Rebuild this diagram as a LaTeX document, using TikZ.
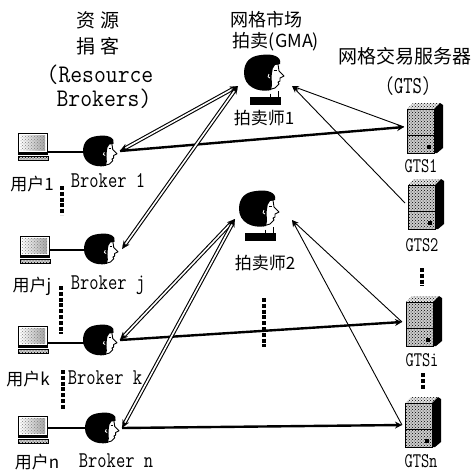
\documentclass[tikz,border=0pt]{standalone}
\usepackage{fontspec}
\newfontfamily\cjk{Noto Sans CJK SC}
\usetikzlibrary{arrows.meta,patterns,calc}
\newcommand\tallmono[2]{\scalebox{1}[#1]{\ttfamily #2}}
\tikzset{
  % profile head: black hair, white face looking right
  head/.pic={
    \draw[fill=white,line width=0.9pt,line join=round]
      (27,9) -- (34,9) -- (35,16) -- (40,21) -- (36,23) -- (36,26) -- (34,27)
      -- (35,29) -- (31,33) -- (24,35) -- (24,20) -- cycle;
    \fill (17,0) .. controls (29,-2) and (38,2) .. (36,9) -- (31,10)
      .. controls (29,12) and (28,15) .. (28,18)
      .. controls (27,22) and (28,26) .. (28,30) -- (27,35)
      .. controls (13,38) and (0,31) .. (0,18)
      .. controls (0,6) and (7,1) .. (17,0) -- cycle;
    \draw[white,line width=0.8pt] (25,19) .. controls (23,21) and (24,23) .. (26,23);
    \draw[line width=0.8pt] (30,15) -- (33,15);
  },
  auctioneer/.pic={
    \pic {head};
    \draw[line width=0.9pt] (24,35) -- (24,39) (31,33) -- (31,39);
    \fill (5,38) rectangle (34,45);
  },
  pc/.pic={
    \draw[line width=0.9pt,fill=white] (0,0) rectangle (29,19);
    \shade[left color=white,right color=gray!70] (2,2) rectangle (27,17);
    \path[pattern=crosshatch dots,pattern color=gray] (2,2) rectangle (27,17);
    \fill (0,20) rectangle (30,22);
    \draw[line width=0.6pt,fill=gray!40] (0,23) rectangle (30,27);
    \path[pattern=crosshatch dots] (0,23) rectangle (30,27);
  },
  server/.pic={
    \fill[gray!20] (0,6) -- (6,0) -- (33,0) -- (27,6) -- cycle;
    \path[pattern=crosshatch dots] (0,6) -- (6,0) -- (33,0) -- (27,6) -- cycle;
    \fill (27,6) -- (33,0) -- (36,2) -- (36,45) -- (30,50) -- (27,50) -- cycle;
    \draw[line width=0.6pt,fill=gray!40] (0,6) rectangle (27,50);
    \path[pattern=crosshatch dots] (0,6) rectangle (27,50);
    \draw[line width=0.8pt] (0,32) -- (27,32);
    \fill (20,42) rectangle (24,46);
  },
  cn/.style={font=\cjk\fontsize{17}{17}\selectfont,inner sep=0pt},
  cntitle/.style={font=\cjk\fontsize{19}{19}\selectfont,inner sep=0pt},
  mono/.style={inner sep=0pt},
  dbl/.style={line width=1.1pt,double=white,double distance=1.6pt,
    shorten <=6pt,shorten >=6pt},
  tip/.style={line width=0.1pt,-{Stealth[length=8pt,width=7pt]}},
  thickln/.style={line width=2.4pt,-{Stealth[length=7pt,width=7pt]}},
  thinln/.style={line width=0.9pt,{Stealth[length=7pt,width=5pt]}-},
  userln/.style={line width=1.8pt},
  vdots/.style={line width=3.6pt,dash pattern=on 4pt off 1.8pt},
}
\newcommand\dblink[2]{%
  \draw[dbl] (#1) -- (#2);
  \draw[tip] ($(#1)!7pt!(#2)$) -- (#1);
  \draw[tip] ($(#2)!7pt!(#1)$) -- (#2);}
\begin{document}
\begin{tikzpicture}[x=1pt,y=-1pt]
\useasboundingbox[fill=white] (0,0) rectangle (474,474);

% column titles
\node[cntitle] (t1) at (98,20) {资\hspace{6pt}源};
\node[cntitle] (t2) at (98,46) {捐\hspace{6pt}客};
\node[mono] (t3) at (100,75) {\tallmono{1.1}{\fontsize{23}{23}\selectfont(Resource}};
\node[mono] (t4) at (104,99) {\tallmono{1.1}{\fontsize{23}{23}\selectfont Brokers)}};
\node[cntitle,font=\cjk\fontsize{18}{18}\selectfont] (t5) at (266,20) {网格市场};
\node[cntitle,font=\cjk\fontsize{18}{18}\selectfont] (t6) at (276,42) {拍卖(GMA)};
\node[cntitle] (t7) at (405,56) {网格交易服务器};
\node[mono] (t8) at (408,86) {\tallmono{1.35}{\fontsize{18}{18}\selectfont(GTS)}};

% auctioneers
\pic[scale=1.1] at (244,55) {auctioneer};
\pic[scale=1.1] at (239,191) {auctioneer};
\node[cn] (l1) at (264,118) {拍卖师1};
\node[cn] (l2) at (265,263) {拍卖师2};
\coordinate (a1l) at (238,86);
\coordinate (a1r) at (292,86);
\coordinate (a2l) at (235,219);
\coordinate (a2r) at (292,220);

% users and brokers
\pic at (18,133) {pc};
\pic at (20,236) {pc};
\pic at (18,326) {pc};
\pic at (18,416) {pc};
\pic[scale=0.85] at (83,136) {head};
\pic[scale=0.85] at (84,234) {head};
\pic[scale=0.85] at (83,325) {head};
\pic[scale=0.85] at (85,413) {head};

\node[cn] (u1l) at (32,184) {用户1};
\node[cn] (ujl) at (32,286) {用户j};
\node[cn] (ukl) at (28,379) {用户k};
\node[cn] (unl) at (37,462) {用户n};
\node[mono] (b1l) at (108,181) {\tallmono{1.25}{\fontsize{18}{18}\selectfont Broker 1}};
\node[mono] (bjl) at (108,285) {\tallmono{1.25}{\fontsize{18}{18}\selectfont Broker j}};
\node[mono] (bkl) at (105,378) {\tallmono{1.25}{\fontsize{18}{18}\selectfont Broker k}};
\node[mono] (bnl) at (116,461) {\tallmono{1.25}{\fontsize{18}{18}\selectfont Broker n}};

\coordinate (u1) at (47,152);  \coordinate (b1w) at (85,152);  \coordinate (b1) at (120,151);
\coordinate (uj) at (49,250);  \coordinate (bjw) at (86,250);  \coordinate (bj) at (122,249);
\coordinate (uk) at (47,343);  \coordinate (bkw) at (85,343);  \coordinate (bk) at (120,340);
\coordinate (un) at (47,428);  \coordinate (bnw) at (87,428);  \coordinate (bn) at (122,428);

% servers
\pic at (407,103) {server};
\pic at (408,179) {server};
\pic at (406,296) {server};
\pic at (405,397) {server};
\node[mono] (g1) at (421,166) {\tallmono{1.3}{\fontsize{16}{16}\selectfont GTS1}};
\node[mono] (g2) at (422,245) {\tallmono{1.3}{\fontsize{16}{16}\selectfont GTS2}};
\node[mono] (gi) at (422,360) {\tallmono{1.3}{\fontsize{16}{16}\selectfont GTSi}};
\node[mono] (gn) at (421,461) {\tallmono{1.3}{\fontsize{16}{16}\selectfont GTSn}};
\coordinate (s1) at (404,127);
\coordinate (s2) at (405,203);
\coordinate (si) at (402,322);
\coordinate (sn) at (402,425);

% user to broker links
\draw[userln] (u1) -- (b1w);
\draw[userln] (uj) -- (bjw);
\draw[userln] (uk) -- (bkw);
\draw[userln] (un) -- (bnw);

% broker to server trades
\draw[thickln] (b1) -- (s1);
\draw[thickln] (bk) -- (si);
\draw[thickln] (bn) -- (sn);

% server bids to auctioneers
\draw[thinln] (a1r) -- (s1);
\draw[thinln] (a1r) -- (s2);
\draw[thinln] (a2r) -- (si);
\draw[thinln] (a2r) -- (sn);

% broker requests to auctioneers
\dblink{b1}{a1l}
\dblink{bj}{a1l}
\dblink{bk}{a2l}
\dblink{bn}{a2l}

% ellipsis marks
\coordinate (d1a) at (62,186); \coordinate (d1b) at (62,215);
\coordinate (d2a) at (61,286); \coordinate (d2b) at (61,334);
\coordinate (d3a) at (63,370); \coordinate (d3b) at (63,410);
\coordinate (d4a) at (264,298); \coordinate (d4b) at (264,347);
\coordinate (d5a) at (422,268); \coordinate (d5b) at (422,286);
\coordinate (d6a) at (423,373); \coordinate (d6b) at (423,390);
\draw[vdots] (d1a) -- (d1b);
\draw[vdots] (d2a) -- (d2b);
\draw[vdots] (d3a) -- (d3b);
\draw[vdots] (d4a) -- (d4b);
\draw[vdots] (d5a) -- (d5b);
\draw[vdots] (d6a) -- (d6b);
\end{tikzpicture}
\end{document}
